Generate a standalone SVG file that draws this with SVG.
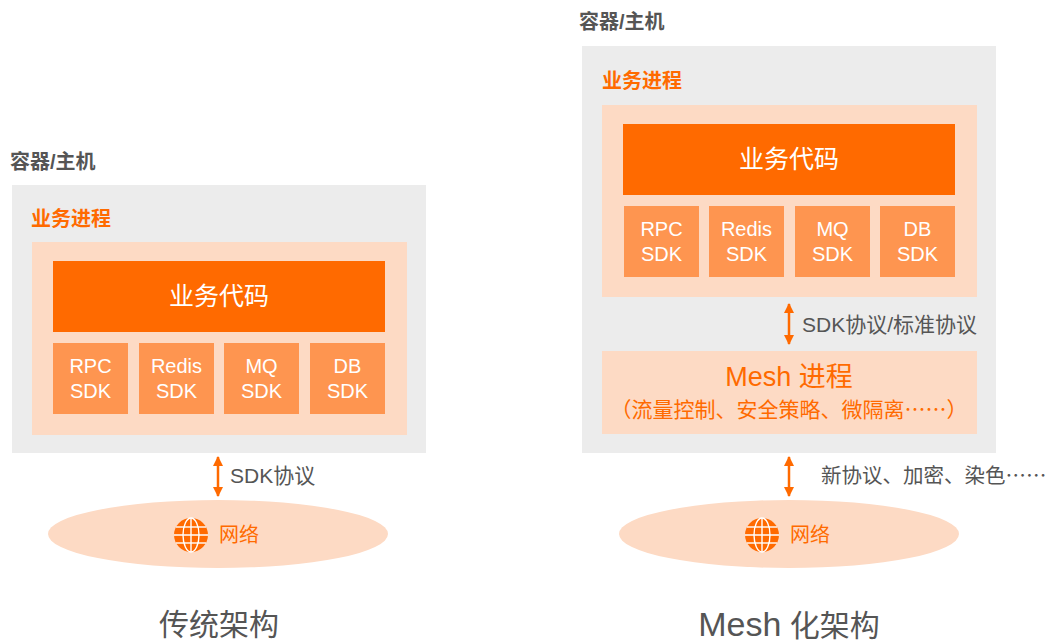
<svg xmlns="http://www.w3.org/2000/svg" width="1049" height="641" viewBox="0 0 1049 641">
<style>
text{font-family:"Liberation Sans","Noto Sans CJK SC",sans-serif;}
.cjk{font-family:"Noto Sans CJK SC",sans-serif;}
.host{fill:#ececec;}
.proc{fill:#fddac4;}
.code{fill:#ff6a00;}
.sdk{fill:#fe9550;}
.lbl{fill:#555;font-size:20px;font-weight:bold;}
.plbl{fill:#ff6a00;font-size:20px;font-weight:bold;}
.ctext{fill:#fff;font-size:25px;text-anchor:middle;}
.stext{fill:#fff;font-size:20px;text-anchor:middle;}
.edge{fill:#555;font-size:21px;}
.net{fill:#ff6a00;font-size:20px;}
.title{fill:#555;font-size:30px;text-anchor:middle;}
.conn{stroke:#ff6a00;stroke-width:2.5;fill:none;}
.grid{stroke:#fff;stroke-width:1.4;fill:none;}
</style>
<defs>
<marker id="ah" viewBox="0 0 10 10" refX="9" refY="5" markerWidth="4" markerHeight="4" orient="auto-start-reverse" markerUnits="strokeWidth">
<path d="M0,0 L10,5 L0,10 z" fill="#ff6a00"/>
</marker>
<g id="globe">
<circle cx="0" cy="0" r="17" fill="#ff6a00"/>
<ellipse class="grid" cx="0" cy="0" rx="8" ry="17"/>
<line class="grid" x1="0" y1="-17" x2="0" y2="17"/>
<line class="grid" x1="-17" y1="0" x2="17" y2="0"/>
<line class="grid" x1="-15" y1="-8" x2="15" y2="-8"/>
<line class="grid" x1="-15" y1="8" x2="15" y2="8"/>
</g>
</defs>

<!-- Left: traditional -->
<g id="left-host">
<text class="lbl" x="10" y="169">容器/主机</text>
<rect class="host" x="12" y="185" width="414" height="268"/>
</g>
<g id="left-proc">
<text class="plbl" x="31" y="226">业务进程</text>
<rect class="proc" x="32" y="242" width="375" height="193"/>
</g>
<g id="left-code">
<rect class="code" x="53" y="261" width="332" height="71"/>
<text class="ctext" x="219" y="305">业务代码</text>
</g>
<g id="left-rpc"><rect class="sdk" x="53" y="343" width="75" height="71"/><text class="stext" x="90.5" y="373">RPC</text><text class="stext" x="90.5" y="398">SDK</text></g>
<g id="left-redis"><rect class="sdk" x="139" y="343" width="75" height="71"/><text class="stext" x="176.5" y="373">Redis</text><text class="stext" x="176.5" y="398">SDK</text></g>
<g id="left-mq"><rect class="sdk" x="224" y="343" width="75" height="71"/><text class="stext" x="261.5" y="373">MQ</text><text class="stext" x="261.5" y="398">SDK</text></g>
<g id="left-db"><rect class="sdk" x="310" y="343" width="75" height="71"/><text class="stext" x="347.5" y="373">DB</text><text class="stext" x="347.5" y="398">SDK</text></g>
<g id="left-net">
<ellipse class="proc" cx="218" cy="534" rx="170" ry="34"/>
<use href="#globe" x="191" y="535"/>
<text class="net" x="219" y="542">网络</text>
</g>
<text class="title" x="219" y="635">传统架构</text>

<!-- Right: mesh -->
<g id="right-host">
<text class="lbl" x="579" y="29">容器/主机</text>
<rect class="host" x="582" y="46" width="414" height="407"/>
</g>
<g id="right-proc">
<text class="plbl" x="602" y="88">业务进程</text>
<rect class="proc" x="602" y="105" width="375" height="192"/>
</g>
<g id="right-code">
<rect class="code" x="623" y="124" width="332" height="71"/>
<text class="ctext" x="789" y="168">业务代码</text>
</g>
<g id="right-rpc"><rect class="sdk" x="624" y="206" width="75" height="71"/><text class="stext" x="661.5" y="236">RPC</text><text class="stext" x="661.5" y="261">SDK</text></g>
<g id="right-redis"><rect class="sdk" x="709" y="206" width="75" height="71"/><text class="stext" x="746.5" y="236">Redis</text><text class="stext" x="746.5" y="261">SDK</text></g>
<g id="right-mq"><rect class="sdk" x="795" y="206" width="75" height="71"/><text class="stext" x="832.5" y="236">MQ</text><text class="stext" x="832.5" y="261">SDK</text></g>
<g id="right-db"><rect class="sdk" x="880" y="206" width="75" height="71"/><text class="stext" x="917.5" y="236">DB</text><text class="stext" x="917.5" y="261">SDK</text></g>
<g id="right-mesh">
<rect class="proc" x="602" y="351" width="375" height="83"/>
<text x="789" y="386" style="fill:#ff6a00;font-size:27px;text-anchor:middle;">Mesh 进程</text>
<text class="cjk" x="789" y="417" style="fill:#ff6a00;font-size:21px;text-anchor:middle;">（流量控制、安全策略、微隔离……）</text>
</g>
<g id="right-net">
<ellipse class="proc" cx="789" cy="534" rx="170" ry="34"/>
<use href="#globe" x="762" y="535"/>
<text class="net" x="790" y="542">网络</text>
</g>
<text class="title" x="789" y="636"><tspan style="font-size:34px;">Mesh</tspan> 化架构</text>

<g id="connectors">
<line class="conn" x1="218" y1="457" x2="218" y2="496" marker-start="url(#ah)" marker-end="url(#ah)"/>
<text class="edge" x="230" y="483">SDK协议</text>
<line class="conn" x1="789" y1="304" x2="789" y2="344" marker-start="url(#ah)" marker-end="url(#ah)"/>
<text class="edge" x="802" y="332">SDK协议/标准协议</text>
<line class="conn" x1="789" y1="457" x2="789" y2="496" marker-start="url(#ah)" marker-end="url(#ah)"/>
<text class="edge cjk" x="821" y="483" style="font-size:20.5px;">新协议、加密、染色……</text>
</g>
</svg>
